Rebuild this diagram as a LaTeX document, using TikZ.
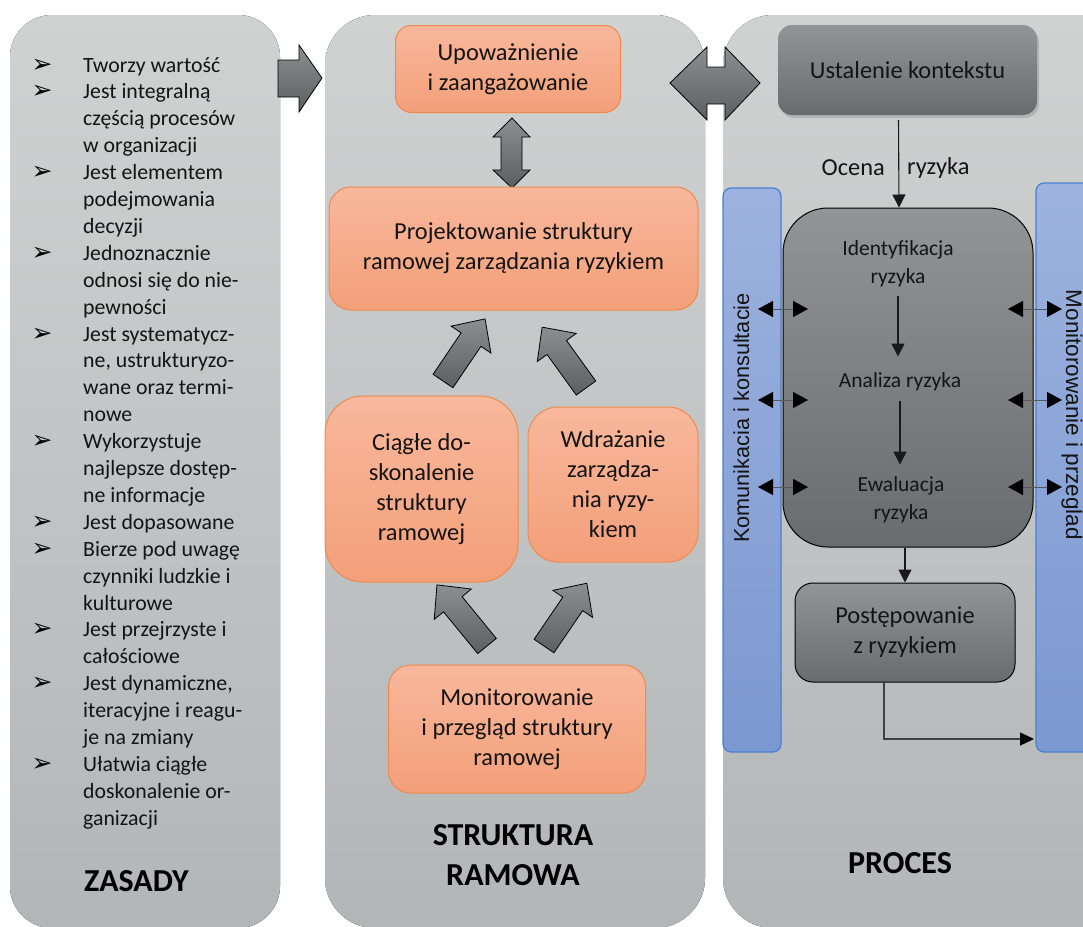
\documentclass[tikz,border=0pt]{standalone}
\usepackage{fontspec}
\setmainfont{Carlito}
\newfontfamily\arialf{Liberation Sans}
\newfontfamily\djv{DejaVu Sans}
\usetikzlibrary{arrows.meta,shadows,calc}
\definecolor{panelTop}{HTML}{D0D2D2}
\definecolor{panelBot}{HTML}{B3B6B7}
\definecolor{orTop}{HTML}{F8B89C}
\definecolor{orBot}{HTML}{F39F79}
\definecolor{orDraw}{HTML}{EF8A4F}
\definecolor{dkTop}{HTML}{929495}
\definecolor{dkBot}{HTML}{696C6E}
\definecolor{arTop}{HTML}{8C8E90}
\definecolor{arBot}{HTML}{5C5F61}
\definecolor{blTop}{HTML}{9DB2DE}
\definecolor{blBot}{HTML}{7B98D1}
\definecolor{blDraw}{HTML}{4A7FD0}
\definecolor{txt}{HTML}{141414}
\newcommand{\lfont}{\fontsize{21.8}{26.9}\selectfont}
\newcommand{\bxf}{\fontsize{24.4}{30}\selectfont}
\newcommand{\pxf}{\fontsize{21.5}{28}\selectfont}
\newcommand{\hdf}{\bfseries\fontsize{32}{40}\selectfont}
\newcommand{\blockarr}[5]{%
  \draw[barrow,shift={(#1,#2)},rotate=#3] (0,-12) -- ({#4-25},-12) -- ({#4-25},-24) -- (#4,0) -- ({#4-25},24) -- ({#4-25},12) -- (0,12) -- cycle;}
\begin{document}
\begin{tikzpicture}[x=1pt,y=-1pt,
  panel/.style={top color=panelTop,bottom color=panelBot,draw=none},
  obox/.style={top color=orTop,bottom color=orBot,draw=orDraw,line width=1pt,align=center,text=txt,font=\bxf,inner sep=0pt},
  dbox/.style={top color=dkTop,bottom color=dkBot,align=center,text=txt,inner sep=0pt},
  bbar/.style={top color=blTop,bottom color=blBot,draw=blDraw,line width=1.2pt,rounded corners=8pt,inner sep=0pt},
  barrow/.style={top color=arTop,bottom color=arBot,draw=black,line width=0.8pt,line join=miter},
  lt/.style={font=\lfont,text=txt,inner sep=0pt},
  bul/.style={font=\djv\fontsize{25}{25}\selectfont,text=black,inner sep=0pt},
  ptxt/.style={font=\pxf,text=txt,align=center,inner sep=0pt},
  thinarr/.style={draw=black!90,line width=1.1pt,-{Triangle[length=13pt,width=13pt]}},
  darr/.style={draw=black!65,line width=1pt,{Triangle[length=15pt,width=16pt,color=black]}-{Triangle[length=15pt,width=16pt,color=black]}},
  hd/.style={font=\hdf,text=black,inner sep=0pt,align=center}
]
\useasboundingbox (0,0) rectangle (1083,926);
% panels
\fill[panel,rounded corners=42pt] (10,15) rectangle (280,928);
\fill[panel,rounded corners=50pt] (325,15) rectangle (705,928);
\fill[panel,rounded corners=50pt] (723,15) rectangle (1140,928);

% left list
\foreach \t [count=\i] in {Tworzy wartość, Jest integralną, częścią procesów, w organizacji, Jest elementem, podejmowania, decyzji, Jednoznacznie, odnosi się do nie-, pewności, Jest systematycz-, {ne, ustrukturyzo-}, wane oraz termi-, nowe, Wykorzystuje, najlepsze dostęp-, ne informacje, Jest dopasowane, Bierze pod uwagę, czynniki ludzkie i, kulturowe, Jest przejrzyste i, całościowe, {Jest dynamiczne,}, iteracyjne i reagu-, je na zmiany, Ułatwia ciągłe, doskonalenie or-, ganizacji}
  \node[lt,anchor=base west] (l\i) at (83,{72+26.9*(\i-1)}) {\t};
\foreach \i in {1,2,5,8,11,15,18,19,22,24,27}
  \node[bul,anchor=base] (b\i) at (42,{72+26.9*(\i-1)}) {➢};
\node[hd,anchor=base west] (zas) at (84,891) {ZASADY};

% arrow left -> middle
\draw[barrow] (278,60) -- (299,60) -- (299,45) -- (322,78) -- (299,112) -- (299,97) -- (278,97) -- cycle;
% double arrow middle <-> right
\draw[barrow] (670,83) -- (707,47) -- (707,67) -- (725,67) -- (725,47) -- (760,83) -- (725,120) -- (725,104) -- (707,104) -- (707,120) -- cycle;

% middle boxes
\node[obox,rounded corners=16pt,minimum width=225pt,minimum height=87pt] (upo) at (508,69) {Upoważnienie\\i zaangażowanie};
\draw[barrow] (512,118) -- (530,137) -- (522,137) -- (522,170) -- (530,170) -- (512,188) -- (493,170) -- (501,170) -- (501,137) -- (493,137) -- cycle;
\node[obox,rounded corners=22pt,minimum width=369pt,minimum height=123pt] (proj) at (513.5,248.5) {Projektowanie struktury\\ramowej zarządzania ryzykiem};
\node[obox,rounded corners=38pt,minimum width=193pt,minimum height=186pt] (ciag) at (421.5,489) {Ciągłe do-\\skonalenie\\struktury\\ramowej};
\node[obox,rounded corners=30pt,minimum width=170pt,minimum height=155pt] (wdr) at (613,484.5) {Wdrażanie\\zarządza-\\nia ryzy-\\kiem};
\node[obox,rounded corners=22pt,minimum width=257pt,minimum height=128pt] (mon) at (517,729) {Monitorowanie\\i przegląd struktury\\ramowej};
\blockarr{443}{381}{55.9}{75}{}
\blockarr{586}{388}{125.8}{75}{}
\blockarr{487}{646}{129.3}{79}{}
\blockarr{544}{646}{55.7}{76}{}
\node[hd] (str) at (513,855) {STRUKTURA\\RAMOWA};

% right panel
\node[bbar,minimum width=58pt,minimum height=564pt] (lbar) at (752,470) {};
\node[bbar,minimum width=64pt,minimum height=569pt] (rbar) at (1068,467.5) {};
\node[rotate=90,anchor=base,font=\arialf\fontsize{21.7}{26}\selectfont,text=txt,inner sep=0pt] (kom) at (749,418) {Komunikacia i konsultacie};
\node[rotate=-90,anchor=base,font=\arialf\fontsize{22.5}{26}\selectfont,text=txt,inner sep=0pt] (mpz) at (1066,415) {Monitorowanie i przeglad};

\node[dbox,rounded corners=14pt,minimum width=259pt,minimum height=90pt,font=\bxf,drop shadow={shadow xshift=2pt,shadow yshift=-3pt,opacity=0.35}] (ust) at (907.5,70) {Ustalenie kontekstu};
\node[dbox,draw=black,line width=1pt,rounded corners=45pt,minimum width=250pt,minimum height=339pt] (proc) at (908,377.5) {};
\node[ptxt] (ide) at (898,264) {Identyfikacja\\ryzyka};
\node[ptxt] (ana) at (900,382) {Analiza ryzyka};
\node[ptxt] (ewa) at (901,500) {Ewaluacja\\ryzyka};
\node[dbox,draw=black,line width=1pt,rounded corners=18pt,minimum width=220pt,minimum height=99pt,font=\bxf] (post) at (905,632.5) {Postępowanie\\z ryzykiem};

\draw[thinarr] ($(ust.south)+(-9,5)$) -- ($(proc.north)+(-9,0)$);
\node[font=\bxf,text=txt,anchor=east,inner sep=0pt] (oc) at (885,168) {Ocena};
\node[font=\bxf,text=txt,anchor=west,inner sep=0pt] (ry) at (907,168) {ryzyka};
\draw[thinarr,shorten <=9pt,shorten >=16pt] (ide.south) -- (ide.south |- ana.north);
\draw[thinarr,shorten <=10pt,shorten >=12pt] (ana.south) -- (ana.south |- ewa.north);
\draw[thinarr] (proc.south -| post.north) -- (post.north);
\coordinate (pe) at (1034,739);
\draw[draw=black!75,line width=1.2pt,-{Triangle[length=14pt,width=13pt,color=black]}] ($(post.south)+(-21,0)$) |- (pe);

\foreach \y [count=\k] in {309,400,487}{
  \coordinate (la\k) at (758,\y); \coordinate (lb\k) at (808,\y);
  \coordinate (ra\k) at (1008,\y); \coordinate (rb\k) at (1062,\y);
  \draw[darr] (la\k) -- (lb\k);
  \draw[darr] (ra\k) -- (rb\k);
}
\node[hd] (pro) at (900,863) {PROCES};
\end{tikzpicture}
\end{document}
